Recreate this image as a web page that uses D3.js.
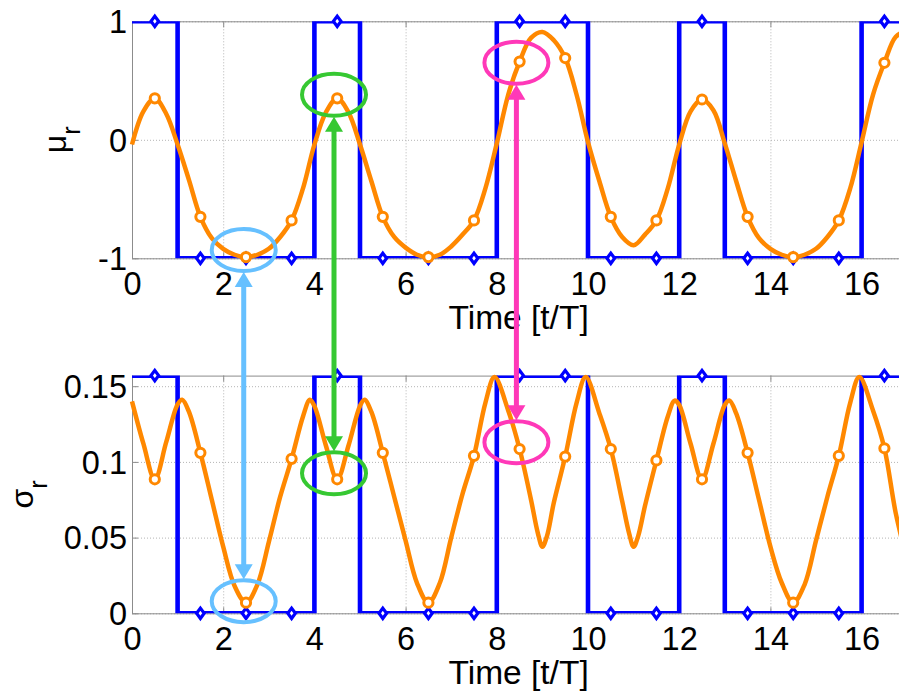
<!DOCTYPE html>
<html>
<head>
<meta charset="utf-8">
<script src="https://cdnjs.cloudflare.com/ajax/libs/d3/7.8.5/d3.min.js"></script>
<style>
  html, body { margin: 0; padding: 0; background: #fff; }
  svg { display: block; }
  text { font-family: "Liberation Sans", Arial, Helvetica, sans-serif; fill: #000; }
  .grid line { stroke: #b4b4b4; stroke-dasharray: 1,2; }
  .axis path, .axis line { stroke: #8c8c8c; }
</style>
</head>
<body>
<svg id="chart" width="899" height="692"></svg>
<script>
// transmitted bits, one per symbol period [k, k+1]
var bits = [1, 0, 0, 0, 1, 0, 0, 0, 1, 1, 0, 0, 1, 0, 0, 0, 1];

// mean mu_r, read every quarter period from t = 0 to t = 17
var muTime = d3.range(0, 17.001, 0.25);
var muValues = [
  -0.04, 0.24, 0.35, 0.22, -0.04, -0.34, -0.65, -0.83,
  -0.92, -0.97, -0.99, -0.97, -0.92, -0.82, -0.68, -0.41,
  -0.04, 0.23, 0.35, 0.23, -0.04, -0.35, -0.65, -0.82,
  -0.91, -0.97, -0.99, -0.97, -0.90, -0.80, -0.68, -0.41,
  -0.03, 0.38, 0.66, 0.86, 0.91, 0.84, 0.69, 0.38,
  -0.02, -0.35, -0.65, -0.82, -0.89, -0.80, -0.68, -0.41,
  -0.04, 0.24, 0.34, 0.25, -0.03, -0.35, -0.65, -0.83,
  -0.92, -0.97, -0.99, -0.97, -0.92, -0.82, -0.68, -0.41,
  -0.02, 0.38, 0.65, 0.87, 0.92
];

// std deviation sigma_r (extra samples near the humps and dips)
var sigmaTime = [
  0, 0.25, 0.5, 0.75, 1, 1.1, 1.25, 1.5, 1.75, 2, 2.25, 2.5, 2.75, 3, 3.25, 3.5,
  3.75, 3.9, 4, 4.25, 4.5, 4.75, 5, 5.1, 5.25, 5.5, 5.75, 6, 6.25, 6.5, 6.75, 7,
  7.25, 7.5, 7.75, 7.95, 8.25, 8.5, 8.75, 8.9, 9, 9.1, 9.25, 9.5, 9.75, 9.95, 10.25, 10.5,
  10.75, 10.9, 11, 11.1, 11.25, 11.5, 11.75, 11.9, 12, 12.25, 12.5, 12.75, 13, 13.1, 13.25,
  13.5, 13.75, 14, 14.25, 14.5, 14.75, 15, 15.25, 15.5, 15.75, 15.95, 16.25,
  16.5, 16.75, 17
];
var sigmaValues = [
  0.140, 0.112, 0.0885, 0.113, 0.138, 0.141, 0.133, 0.106, 0.075, 0.044, 0.018, 0.007, 0.019, 0.047, 0.077, 0.102,
  0.130, 0.141, 0.137, 0.111, 0.0885, 0.111, 0.137, 0.141, 0.133, 0.106, 0.077, 0.048, 0.020, 0.007, 0.020, 0.050,
  0.079, 0.104, 0.139, 0.156, 0.134, 0.1085, 0.075, 0.053, 0.044, 0.051, 0.073, 0.1035, 0.139, 0.156, 0.132, 0.1085,
  0.074, 0.053, 0.044, 0.051, 0.071, 0.101, 0.130, 0.1405, 0.1376, 0.112, 0.0885, 0.112, 0.1376, 0.1405, 0.132,
  0.106, 0.075, 0.044, 0.020, 0.007, 0.019, 0.048, 0.077, 0.104, 0.139, 0.156, 0.134,
  0.109, 0.066, 0.035
];

var xTicks = [0, 2, 4, 6, 8, 10, 12, 14, 16];
var muTicks = [-1, 0, 1];
var sigmaTicks = [0, 0.05, 0.1, 0.15];
var sigmaHigh = 0.157;

// highlighted samples: time, centre in mu panel, centre in sigma panel
var markTime = [2.45, 4.43, 8.43];
var markMu = [-0.93, 0.38, 0.65];
var markSigma = [0.008, 0.0925, 0.113];
var markColor = ["#66c0ff", "#36c832", "#ff38b8"];

var blue = "#0000ff", orange = "#ff8800";
var svg = d3.select("#chart");

var x = d3.scaleLinear().domain([0, 17]).range([132, 132 + 17 * 45.6]);

function drawPanel(id, yScale, ticks, low, high, time, values, label, labelX) {
  var y0 = yScale.range()[0], y1 = yScale.range()[1];
  var g = svg.append("g").attr("class", id);

  g.append("clipPath").attr("id", "clip-" + id)
    .append("rect")
    .attr("x", x(0)).attr("y", y1)
    .attr("width", x(17) - x(0)).attr("height", y0 - y1);

  // dotted grid
  g.append("g").attr("class", "grid")
    .attr("transform", "translate(0," + y0 + ")")
    .call(d3.axisBottom(x).tickValues(xTicks).tickSize(-(y0 - y1)).tickFormat(""))
    .call(function (s) { s.select(".domain").remove(); });
  g.append("g").attr("class", "grid")
    .attr("transform", "translate(" + x(0) + ",0)")
    .call(d3.axisLeft(yScale).tickValues(ticks).tickSize(-(x(17) - x(0))).tickFormat(""))
    .call(function (s) { s.select(".domain").remove(); });

  // axes box with inward ticks
  g.append("g").attr("class", "axis")
    .attr("transform", "translate(0," + y0 + ")")
    .call(d3.axisBottom(x).tickValues(xTicks).tickSize(-6).tickSizeOuter(0).tickPadding(14).tickFormat(d3.format("d")));
  g.append("g").attr("class", "axis")
    .attr("transform", "translate(0," + y1 + ")")
    .call(d3.axisTop(x).tickValues(xTicks).tickSize(-6).tickSizeOuter(0).tickFormat(""));
  var left = g.append("g").attr("class", "axis")
    .attr("transform", "translate(" + x(0) + ",0)")
    .call(d3.axisLeft(yScale).tickValues(ticks).tickSize(-6).tickSizeOuter(0).tickPadding(5)
      .tickFormat(function (d) { return String(d); }));
  g.selectAll(".axis text").attr("font-size", 32.5).attr("font-family", null);
  left.selectAll("text").attr("dy", "0.35em");

  // square wave of the bits
  var square = [];
  bits.forEach(function (b, k) {
    var v = b ? high : low;
    square.push([k, v], [k + 1, v]);
  });
  g.append("path")
    .datum(square)
    .attr("clip-path", "url(#clip-" + id + ")")
    .attr("fill", "none")
    .attr("stroke", blue)
    .attr("stroke-width", 4.6)
    .attr("d", d3.line().x(function (d) { return x(d[0]); }).y(function (d) { return yScale(d[1]); }));

  g.selectAll(".bit")
    .data(bits)
    .join("path")
    .attr("class", "bit")
    .attr("transform", function (b, k) { return "translate(" + x(k + 0.5) + "," + yScale(b ? high : low) + ")"; })
    .attr("d", "M0,-5.2L3.8,0L0,5.2L-3.8,0Z")
    .attr("fill", "#fff")
    .attr("stroke", blue)
    .attr("stroke-width", 3.2);

  // smooth curve
  var pts = time.map(function (t, i) { return [t, values[i]]; });
  g.append("path")
    .datum(pts)
    .attr("fill", "none")
    .attr("stroke", orange)
    .attr("stroke-width", 4.5)
    .attr("d", d3.line().curve(d3.curveCatmullRom.alpha(0.5))
      .x(function (d) { return x(d[0]); }).y(function (d) { return yScale(d[1]); }));

  g.selectAll(".sample")
    .data(pts.filter(function (d) { return d[0] % 1 === 0.5; }))
    .join("circle")
    .attr("class", "sample")
    .attr("cx", function (d) { return x(d[0]); })
    .attr("cy", function (d) { return yScale(d[1]); })
    .attr("r", 4.6)
    .attr("fill", "#fff")
    .attr("stroke", orange)
    .attr("stroke-width", 3);

  // labels
  g.append("text")
    .attr("x", (x(0) + x(17)) / 2 - 1)
    .attr("y", y0 + 71)
    .attr("text-anchor", "middle")
    .attr("font-size", 33.5)
    .text("Time [t/T]");

  var yl = g.append("text")
    .attr("transform", "translate(" + labelX + "," + (y0 + y1) / 2 + ") rotate(-90)")
    .attr("text-anchor", "middle")
    .attr("font-size", 32);
  yl.append("tspan").text(label);
  yl.append("tspan").attr("font-size", 25).attr("dy", 14).text("r");
}

var yMu = d3.scaleLinear().domain([-1, 1]).range([258.3, 21.3]);
var ySigma = d3.scaleLinear().domain([0, sigmaHigh]).range([613.3, 613.3 - sigmaHigh * 1514]);

drawPanel("mu", yMu, muTicks, -1, 1, muTime, muValues, "\u03bc", 66);
drawPanel("sigma", ySigma, sigmaTicks, 0, sigmaHigh, sigmaTime, sigmaValues, "\u03c3", 33);

// linked highlights between both panels
var rx = 32, ry = 21, head = 15, halfHead = 9;
var notes = svg.append("g").attr("class", "notes");
markTime.forEach(function (t, i) {
  var cx = x(t), yA = yMu(markMu[i]), yB = ySigma(markSigma[i]), c = markColor[i];
  notes.append("ellipse").attr("cx", cx).attr("cy", yA).attr("rx", rx).attr("ry", ry)
    .attr("fill", "none").attr("stroke", c).attr("stroke-width", 4);
  notes.append("ellipse").attr("cx", cx).attr("cy", yB).attr("rx", rx).attr("ry", ry)
    .attr("fill", "none").attr("stroke", c).attr("stroke-width", 4);
  var tipA = yA + ry + 1, tipB = yB - ry - 1;
  notes.append("line").attr("x1", cx).attr("x2", cx)
    .attr("y1", tipA + head - 1).attr("y2", tipB - head + 1)
    .attr("stroke", c).attr("stroke-width", 5);
  notes.append("path")
    .attr("d", "M" + cx + "," + tipA + "L" + (cx + halfHead) + "," + (tipA + head) + "L" + (cx - halfHead) + "," + (tipA + head) + "Z")
    .attr("fill", c);
  notes.append("path")
    .attr("d", "M" + cx + "," + tipB + "L" + (cx + halfHead) + "," + (tipB - head) + "L" + (cx - halfHead) + "," + (tipB - head) + "Z")
    .attr("fill", c);
});
</script>
</body>
</html>
